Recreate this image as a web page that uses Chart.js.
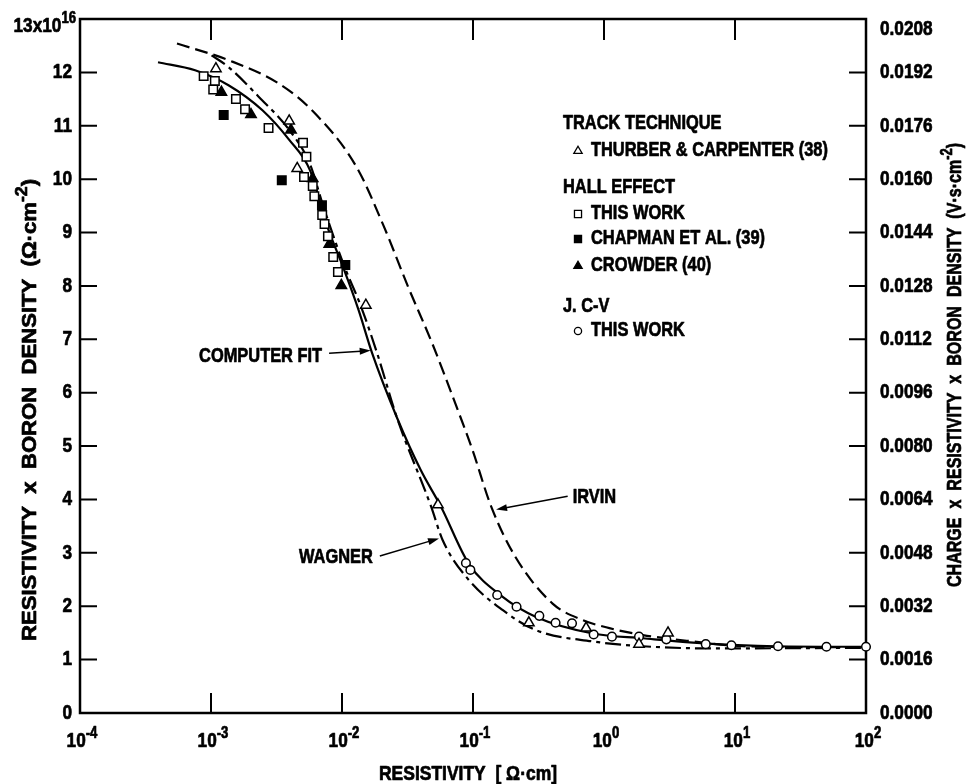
<!DOCTYPE html>
<html>
<head>
<meta charset="utf-8">
<script src="https://cdn.jsdelivr.net/npm/chart.js@4.4.0/dist/chart.umd.min.js"></script>
<style>
  html, body { margin: 0; padding: 0; background: #fff; }
  #wrap { width: 970px; height: 784px; }
</style>
</head>
<body>
<div id="wrap"><canvas id="chart" width="970" height="784"></canvas></div>
<script>
// values (x = resistivity in ohm-cm, y = resistivity x boron density / 1e16)
const thurberX = [1.09e-3, 3.95e-3, 4.55e-3, 0.0152, 0.054, 0.267, 0.73, 1.85, 3.08];
const thurberY = [12.07, 11.09, 10.20, 7.64, 3.90, 1.69, 1.59, 1.29, 1.50];

const hallX = [8.79e-4, 1.07e-3, 1.04e-3, 1.55e-3, 1.82e-3, 2.75e-3, 5.04e-3, 5.35e-3, 5.13e-3, 5.98e-3, 6.15e-3, 7.06e-3, 7.36e-3, 7.81e-3, 8.57e-3, 9.31e-3];
const hallY = [11.93, 11.84, 11.68, 11.50, 11.31, 10.96, 10.68, 10.42, 10.04, 9.87, 9.68, 9.33, 9.16, 8.93, 8.54, 8.26];

const chapmanX = [1.25e-3, 3.47e-3, 7.03e-3, 0.0106];
const chapmanY = [11.20, 9.98, 9.51, 8.39];

const crowderX = [1.20e-3, 2.02e-3, 4.08e-3, 5.97e-3, 8.0e-3, 9.88e-3];
const crowderY = [11.63, 11.21, 10.92, 10.01, 8.78, 8.01];

const cvX = [0.0883, 0.0955, 0.153, 0.215, 0.321, 0.427, 0.570, 0.834, 1.15, 1.85, 2.99, 5.98, 9.39, 21.3, 49.9, 100];
const cvY = [2.81, 2.68, 2.21, 1.99, 1.82, 1.69, 1.68, 1.47, 1.43, 1.43, 1.38, 1.29, 1.27, 1.25, 1.24, 1.24];

const fitX = [3.94e-4, 7.56e-4, 1.36e-3, 2.47e-3, 3.97e-3, 5.69e-3, 7.73e-3, 0.01016, 0.01337, 0.01698, 0.0262, 0.0399, 0.0571, 0.0927, 0.1675, 0.303, 0.822, 1.99, 4.79, 20.7, 100];
const fitY = [12.19, 12.04, 11.76, 11.29, 10.73, 10.17, 9.11, 8.36, 7.55, 6.74, 5.54, 4.55, 3.86, 2.80, 2.18, 1.80, 1.49, 1.40, 1.32, 1.25, 1.24];

const wagnerX = [1.01e-3, 1.36e-3, 2.32e-3, 3.96e-3, 5.68e-3, 7.16e-3, 0.01033, 0.01384, 0.01854, 0.0262, 0.048, 0.0586, 0.093, 0.168, 0.303, 0.824, 1.99, 6.42, 100];
const wagnerY = [12.32, 12.10, 11.54, 10.92, 10.29, 9.51, 8.39, 7.64, 6.74, 5.54, 3.86, 3.24, 2.49, 1.93, 1.55, 1.34, 1.25, 1.21, 1.22];

const irvinX = [5.5e-4, 1.36e-3, 3.3e-3, 5.9e-3, 0.0129, 0.0209, 0.032, 0.0489, 0.074, 0.099, 0.138, 0.21, 0.405, 0.69, 1.10, 1.98, 4.8, 11.5, 100];
const irvinY = [12.54, 12.23, 11.79, 11.29, 10.23, 9.11, 7.98, 6.92, 5.77, 4.93, 3.86, 2.93, 2.05, 1.74, 1.59, 1.46, 1.34, 1.25, 1.23];

// axis ticks
const xTickExps = ['-4', '-3', '-2', '-1', '0', '1', '2'];
const yTickLabels = ['0', '1', '2', '3', '4', '5', '6', '7', '8', '9', '10', '11', '12', '13'];
const y2TickLabels = ['0.0000', '0.0016', '0.0032', '0.0048', '0.0064', '0.0080', '0.0096',
                      '0.0112', '0.0128', '0.0144', '0.0160', '0.0176', '0.0192', '0.0208'];

const FAMILY = '"Liberation Sans", Arial, sans-serif';
const font = size => `bold ${size}px ${FAMILY}`;
const SQUEEZE = 0.82; // condensed look of the original lettering

const pts = (xs, ys) => xs.map((x, i) => ({ x, y: ys[i] }));

// arrows + labels on the curves (anchors in data units)
const notes = [
  { text: 'COMPUTER FIT', tip: [0.01655, 6.79], tail: [0.00797, 6.74], align: 'right', dy: 3 },
  { text: 'WAGNER', tip: [0.055, 3.27], tail: [0.01945, 2.94], align: 'right', dy: 1 },
  { text: 'IRVIN', tip: [0.150, 3.81], tail: [0.528, 4.06], align: 'left', dy: 1 }
];

const legendRows = [
  { label: 'TRACK TECHNIQUE', y: 123 },
  { label: 'THURBER & CARPENTER (38)', style: 'triangle', filled: false, y: 150 },
  { label: 'HALL EFFECT', y: 187 },
  { label: 'THIS WORK', style: 'rect', filled: false, y: 213 },
  { label: 'CHAPMAN ET AL. (39)', style: 'rect', filled: true, y: 238 },
  { label: 'CROWDER (40)', style: 'triangle', filled: true, y: 265 },
  { label: 'J. C-V', y: 306 },
  { label: 'THIS WORK', style: 'circle', filled: false, y: 330 }
];

// text pieces [string, isSuperscript]; squeezed horizontally, or stretched to a target length
function drawParts(ctx, parts, x, y, size, align, target) {
  const supSize = Math.round(size * 0.78);
  let total = 0;
  const widths = parts.map(([t, sup]) => {
    ctx.font = font(sup ? supSize : size);
    const w = ctx.measureText(t).width;
    total += w;
    return w;
  });
  const k = target ? target / total : SQUEEZE;
  ctx.save();
  ctx.translate(x, y);
  ctx.scale(k, 1);
  let cx = align === 'center' ? -total / 2 : align === 'right' ? -total : 0;
  ctx.textAlign = 'left';
  ctx.textBaseline = 'middle';
  ctx.lineWidth = 0.7;
  ctx.lineJoin = 'round';
  parts.forEach(([t, sup], i) => {
    ctx.font = font(sup ? supSize : size);
    const ty = sup ? -size * 0.36 : 0;
    ctx.fillText(t, cx, ty);
    ctx.strokeText(t, cx, ty);
    cx += widths[i];
  });
  ctx.restore();
}

function arrow(ctx, x1, y1, x2, y2) {
  const a = Math.atan2(y2 - y1, x2 - x1);
  const c = Math.cos(a), s = Math.sin(a);
  ctx.beginPath();
  ctx.moveTo(x1, y1);
  ctx.lineTo(x2 - 6 * c, y2 - 6 * s);
  ctx.stroke();
  ctx.beginPath();
  ctx.moveTo(x2, y2);
  ctx.lineTo(x2 - 11 * c + 3.5 * s, y2 - 11 * s - 3.5 * c);
  ctx.lineTo(x2 - 11 * c - 3.5 * s, y2 - 11 * s + 3.5 * c);
  ctx.closePath();
  ctx.fill();
}

const decor = {
  id: 'decor',
  beforeDatasetsDraw(chart) {
    const { ctx, chartArea: a, scales } = chart;
    ctx.save();
    ctx.strokeStyle = '#000';
    ctx.lineWidth = 2.5;
    ctx.strokeRect(a.left, a.top, a.right - a.left, a.bottom - a.top);
    ctx.lineWidth = 2;
    ctx.beginPath();
    xTickExps.slice(1, -1).forEach(e => {
      const px = scales.x.getPixelForValue(Math.pow(10, +e));
      ctx.moveTo(px, a.bottom); ctx.lineTo(px, a.bottom - 20);
      ctx.moveTo(px, a.top); ctx.lineTo(px, a.top + 21);
    });
    yTickLabels.slice(1, -1).forEach(v => {
      const py = scales.y.getPixelForValue(+v);
      ctx.moveTo(a.left, py); ctx.lineTo(a.left + 17, py);
    });
    y2TickLabels.slice(1, -1).forEach(v => {
      const py = scales.y2.getPixelForValue(+v);
      ctx.moveTo(a.right, py); ctx.lineTo(a.right - 17, py);
    });
    ctx.stroke();
    ctx.restore();
  },
  afterDraw(chart) {
    const { ctx, chartArea: a, scales } = chart;
    ctx.save();
    ctx.fillStyle = '#000';
    ctx.strokeStyle = '#000';

    // x tick labels 10^n
    xTickExps.forEach(e => {
      const px = scales.x.getPixelForValue(Math.pow(10, +e));
      drawParts(ctx, [['10', false], [e, true]], px + 2, a.bottom + 28, 21, 'center');
    });
    // left tick labels
    yTickLabels.slice(0, -1).forEach(v => {
      drawParts(ctx, [[v, false]], a.left - 8, scales.y.getPixelForValue(+v), 21, 'right');
    });
    drawParts(ctx, [['13x10', false], ['16', true]], 76, a.top + 7, 21, 'right');
    // right tick labels
    y2TickLabels.forEach((v, i) => {
      const last = i === y2TickLabels.length - 1;
      drawParts(ctx, [[v, false]], a.right + 14, scales.y2.getPixelForValue(+v) + (last ? 10 : 0), 21, 'left');
    });

    // axis titles
    drawParts(ctx, [['RESISTIVITY  [ Ω·cm]', false]], 468, 774, 20, 'center', 178);
    ctx.save();
    ctx.translate(30, 410);
    ctx.rotate(-Math.PI / 2);
    drawParts(ctx, [['RESISTIVITY  x  BORON  DENSITY  (Ω·cm', false], ['-2', true], [')', false]], 0, 0, 20, 'center', 462);
    ctx.restore();
    ctx.save();
    ctx.translate(955, 365);
    ctx.rotate(-Math.PI / 2);
    drawParts(ctx, [['CHARGE  x  RESISTIVITY  x  BORON  DENSITY  (V·s·cm', false], ['-2', true], [')', false]], 0, 0, 20, 'center', 444);
    ctx.restore();

    // curve labels with arrows
    ctx.lineWidth = 1.5;
    notes.forEach(n => {
      const tx = scales.x.getPixelForValue(n.tip[0]), ty = scales.y.getPixelForValue(n.tip[1]);
      const sx = scales.x.getPixelForValue(n.tail[0]), sy = scales.y.getPixelForValue(n.tail[1]);
      ctx.lineWidth = 1.5;
      arrow(ctx, sx, sy, tx, ty);
      const lx = n.align === 'right' ? sx - 7 : sx + 5;
      drawParts(ctx, [[n.text, false]], lx, sy + n.dy, 20, n.align);
    });

    // legend
    legendRows.forEach(r => {
      if (!r.style) {
        drawParts(ctx, [[r.label, false]], 563, r.y, 20, 'left');
        return;
      }
      ctx.fillStyle = r.filled ? '#000' : '#fff';
      ctx.lineWidth = 1.3;
      const rad = r.style === 'circle' ? 3.6 : r.style === 'rect' ? 5 : 4.8;
      Chart.helpers.drawPoint(ctx, { pointStyle: r.style, radius: rad, rotation: 0, borderWidth: 1.3 }, 578, r.y + 1);
      ctx.fillStyle = '#000';
      drawParts(ctx, [[r.label, false]], 591, r.y, 20, 'left');
    });
    ctx.restore();
  }
};

const marker = (label, xs, ys, style, filled, radius) => ({
  label,
  data: pts(xs, ys),
  showLine: false,
  pointStyle: style,
  pointRadius: radius,
  pointBackgroundColor: filled ? '#000' : '#fff',
  pointBorderColor: '#000',
  pointBorderWidth: 1.5,
  clip: false,
  order: 0
});

const curve = (label, xs, ys, dash) => ({
  label,
  data: pts(xs, ys),
  showLine: true,
  borderColor: '#000',
  borderWidth: 2.2,
  borderDash: dash,
  pointRadius: 0,
  cubicInterpolationMode: 'monotone',
  fill: false,
  clip: false,
  order: 1
});

new Chart(document.getElementById('chart'), {
  type: 'scatter',
  data: {
    datasets: [
      marker('THURBER & CARPENTER (38)', thurberX, thurberY, 'triangle', false, 6),
      marker('HALL EFFECT THIS WORK', hallX, hallY, 'rect', false, 6),
      marker('CHAPMAN ET AL. (39)', chapmanX, chapmanY, 'rect', true, 6),
      marker('CROWDER (40)', crowderX, crowderY, 'triangle', true, 6),
      marker('J. C-V THIS WORK', cvX, cvY, 'circle', false, 4.3),
      curve('COMPUTER FIT', fitX, fitY, []),
      curve('WAGNER', wagnerX, wagnerY, [16, 5, 4, 5]),
      curve('IRVIN', irvinX, irvinY, [13, 6])
    ]
  },
  options: {
    responsive: false,
    animation: false,
    devicePixelRatio: 1,
    events: [],
    layout: { padding: { top: 19, left: 0, right: 0, bottom: 0 } },
    plugins: { legend: { display: false }, tooltip: { enabled: false }, title: { display: false } },
    scales: {
      x: {
        type: 'logarithmic',
        position: 'bottom',
        min: 1e-4,
        max: 100,
        ticks: { display: false },
        grid: { display: false },
        border: { display: false },
        afterFit: s => { s.height = 71; }
      },
      y: {
        type: 'linear',
        position: 'left',
        min: 0,
        max: 13,
        ticks: { display: false, stepSize: 1 },
        grid: { display: false },
        border: { display: false },
        afterFit: s => { s.width = 80; }
      },
      y2: {
        type: 'linear',
        position: 'right',
        min: 0,
        max: 0.0208,
        ticks: { display: false, stepSize: 0.0016 },
        grid: { display: false },
        border: { display: false },
        afterFit: s => { s.width = 104; }
      }
    }
  },
  plugins: [decor]
});
</script>
</body>
</html>
